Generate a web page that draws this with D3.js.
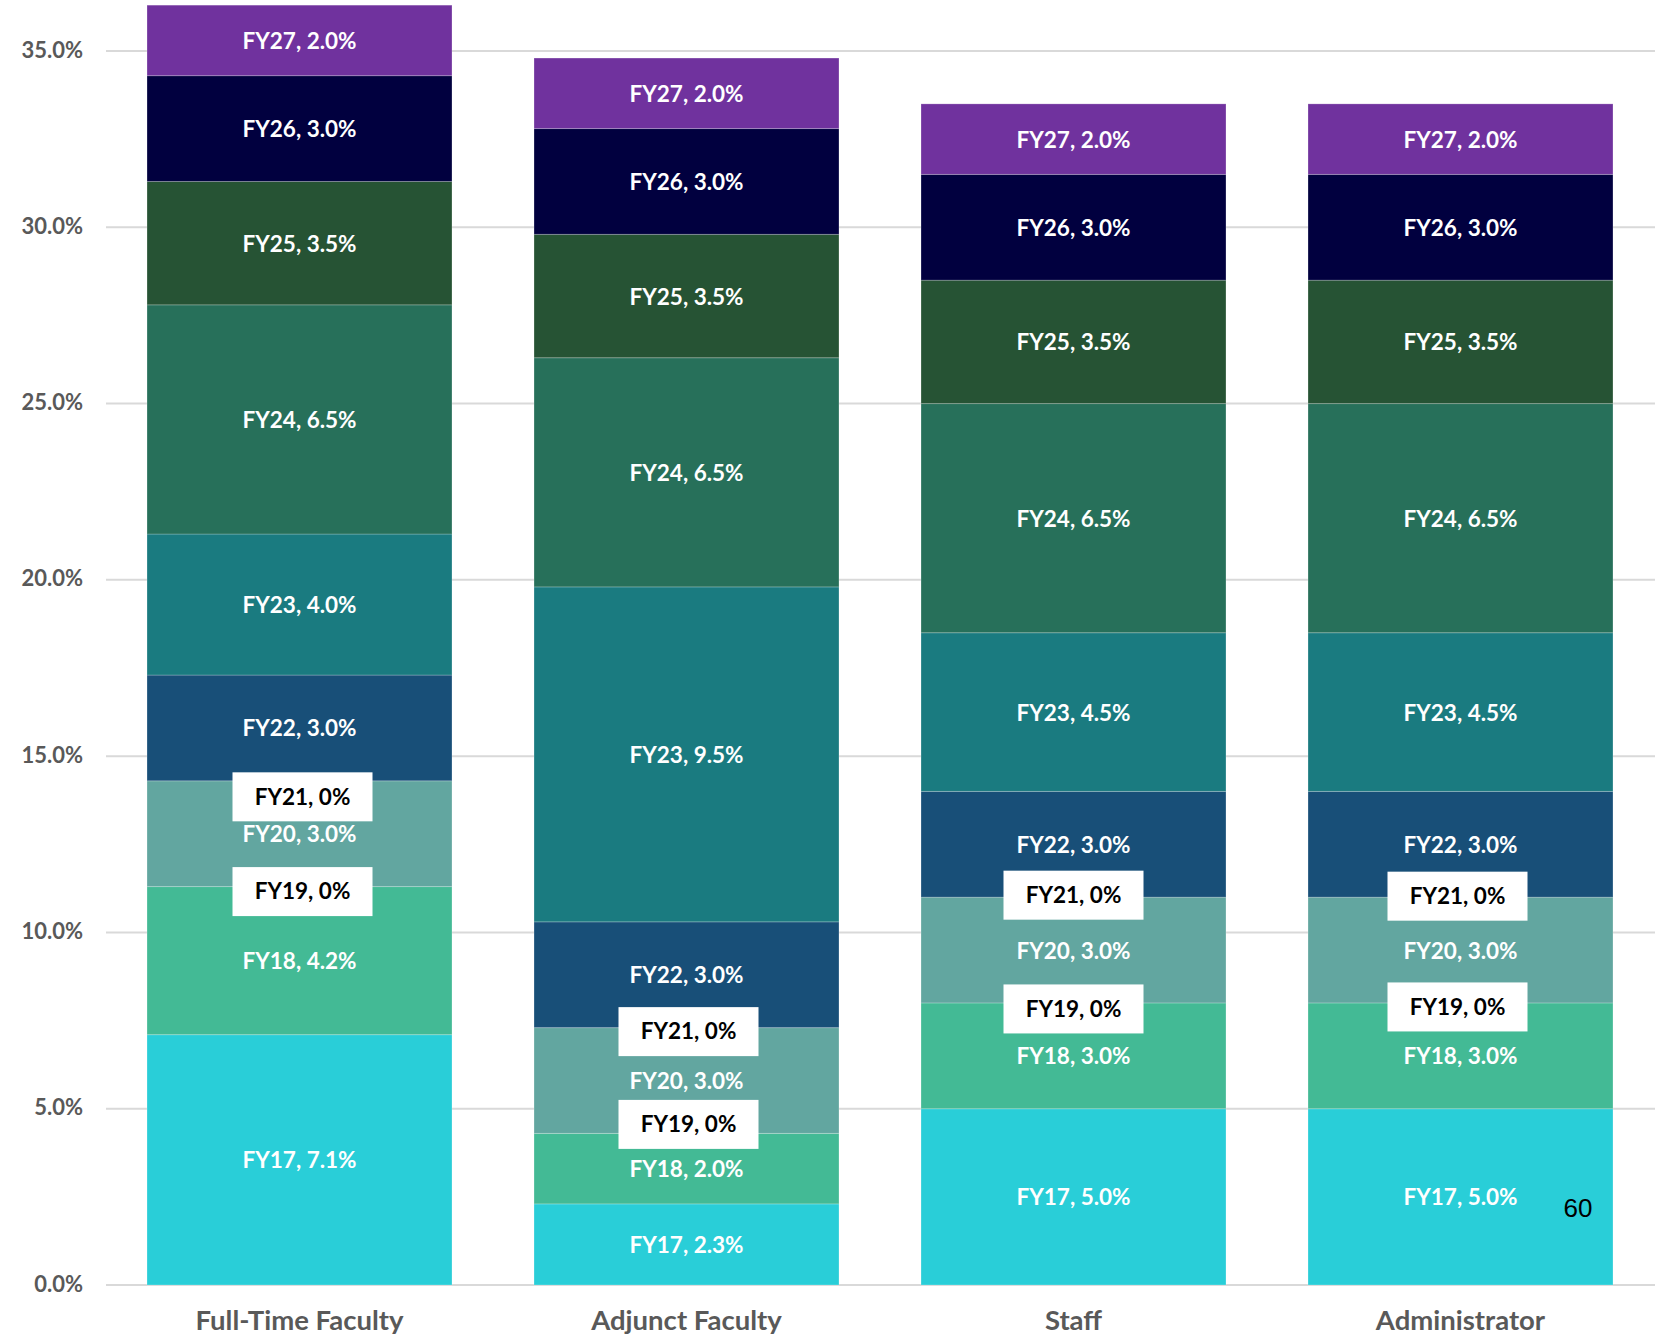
<!DOCTYPE html>
<html>
<head>
<meta charset="utf-8">
<script src="https://cdn.jsdelivr.net/npm/d3@7"></script>
<style>
  html, body { margin: 0; padding: 0; background: #fff; }
  svg { display: block; }
</style>
</head>
<body>
<svg id="chart" width="1655" height="1336"></svg>
<script>
// Salary increase by fiscal year, cumulative by employee group
const groups = ["Full-Time Faculty", "Adjunct Faculty", "Staff", "Administrator"];
const years = ["FY17", "FY18", "FY19", "FY20", "FY21", "FY22", "FY23", "FY24", "FY25", "FY26", "FY27"];

const fullTimeFaculty = [7.1, 4.2, 0, 3.0, 0, 3.0, 4.0, 6.5, 3.5, 3.0, 2.0];
const adjunctFaculty  = [2.3, 2.0, 0, 3.0, 0, 3.0, 9.5, 6.5, 3.5, 3.0, 2.0];
const staff           = [5.0, 3.0, 0, 3.0, 0, 3.0, 4.5, 6.5, 3.5, 3.0, 2.0];
const administrator   = [5.0, 3.0, 0, 3.0, 0, 3.0, 4.5, 6.5, 3.5, 3.0, 2.0];

const yTicks = [0, 5, 10, 15, 20, 25, 30, 35];
const pageNumber = "60";

const yearColors = {
  FY17: "#29CED8", FY18: "#43BA95", FY19: "#43BA95", FY20: "#62A6A0",
  FY21: "#62A6A0", FY22: "#184F78", FY23: "#1A7B80", FY24: "#27705A",
  FY25: "#265334", FY26: "#01003F", FY27: "#70329E"
};

// small hand nudges for the boxed zero-value callouts [dx, dy]
const calloutNudge = {
  "Full-Time Faculty": { FY21: [3, 16], FY19: [3, 5] },
  "Adjunct Faculty":   { FY21: [2, 4],  FY19: [2, -9] },
  "Staff":             { FY21: [0, -2], FY19: [0, 6] },
  "Administrator":     { FY21: [-3, -1], FY19: [-3, 4] }
};

const seriesByGroup = [fullTimeFaculty, adjunctFaculty, staff, administrator];
const rows = groups.map((g, i) => {
  const r = { group: g };
  years.forEach((y, j) => { r[y] = seriesByGroup[i][j]; });
  return r;
});

const svg = d3.select("#chart");
const W = 1655, H = 1336;
const plotLeft = 106, plotRight = 1654, plotTop = 51, plotBottom = 1285;

const x = d3.scaleBand().domain(groups).range([plotLeft, plotRight])
  .paddingInner(0.212).paddingOuter(0.106);
const y = d3.scaleLinear().domain([0, 35]).range([plotBottom, plotTop]);

const labelFont = "Lato, 'Open Sans', sans-serif";

// gridlines
svg.append("g").selectAll("line").data(yTicks).join("line")
  .attr("x1", plotLeft).attr("x2", W)
  .attr("y1", d => y(d)).attr("y2", d => y(d))
  .attr("stroke", "#D9D9D9").attr("stroke-width", 2);

// y axis labels
svg.append("g").selectAll("text").data(yTicks).join("text")
  .attr("x", 83).attr("y", d => y(d))
  .attr("dy", "0.3em")
  .attr("text-anchor", "end")
  .attr("font-family", labelFont).attr("font-weight", 700)
  .attr("font-size", 22).attr("fill", "#595959")
  .text(d => d3.format(".1f")(d) + "%");

const stacked = d3.stack().keys(years)(rows);

// stacked segments
const layers = svg.append("g").selectAll("g").data(stacked).join("g")
  .attr("fill", d => yearColors[d.key]);

layers.selectAll("rect").data(d => d.map(s => ({ key: d.key, s })).filter(o => o.s[1] - o.s[0] > 0))
  .join("rect")
  .attr("x", d => x(d.s.data.group))
  .attr("width", x.bandwidth())
  .attr("y", d => y(d.s[1]))
  .attr("height", d => y(d.s[0]) - y(d.s[1]))
  .attr("stroke", "rgba(255,255,255,0.22)")
  .attr("stroke-width", 1);

const fmt = v => v === 0 ? "0%" : d3.format(".1f")(v) + "%";

// labels inside segments
const labelData = [];
stacked.forEach(layer => {
  layer.forEach(s => {
    labelData.push({ key: layer.key, group: s.data.group, v: s[1] - s[0], y0: s[0], y1: s[1] });
  });
});

const segLabels = svg.append("g");
labelData.filter(d => d.v > 0).forEach(d => {
  segLabels.append("text")
    .attr("x", x(d.group) + x.bandwidth() / 2)
    .attr("y", (y(d.y0) + y(d.y1)) / 2)
    .attr("dy", "0.38em")
    .attr("text-anchor", "middle")
    .attr("font-family", labelFont).attr("font-weight", 700)
    .attr("font-size", 22.5).attr("fill", "#FFFFFF")
    .text(`${d.key}, ${fmt(d.v)}`);
});

// boxed callouts for zero-value years
const zeroLabels = svg.append("g");
labelData.filter(d => d.v === 0).forEach(d => {
  const n = (calloutNudge[d.group] || {})[d.key] || [0, 0];
  const cx = x(d.group) + x.bandwidth() / 2 + n[0];
  const cy = y(d.y0) + n[1];
  const g = zeroLabels.append("g").attr("transform", `translate(${cx},${cy})`);
  g.append("rect").attr("x", -70).attr("y", -24.5).attr("width", 140).attr("height", 49)
    .attr("fill", "#FFFFFF");
  g.append("text")
    .attr("dy", "0.35em").attr("text-anchor", "middle")
    .attr("font-family", labelFont).attr("font-weight", 700)
    .attr("font-size", 22.5).attr("fill", "#000000")
    .text(`${d.key}, ${fmt(d.v)}`);
});

// category axis labels
svg.append("g").selectAll("text").data(groups).join("text")
  .attr("x", d => x(d) + x.bandwidth() / 2)
  .attr("y", 1330)
  .attr("text-anchor", "middle")
  .attr("font-family", labelFont).attr("font-weight", 700)
  .attr("font-size", 27.5).attr("fill", "#595959")
  .text(d => d);

// page number
svg.append("text")
  .attr("x", 1578).attr("y", 1217)
  .attr("text-anchor", "middle")
  .attr("font-family", "'Liberation Sans', Arial, sans-serif")
  .attr("font-size", 26).attr("fill", "#000")
  .text(pageNumber);
</script>
</body>
</html>
